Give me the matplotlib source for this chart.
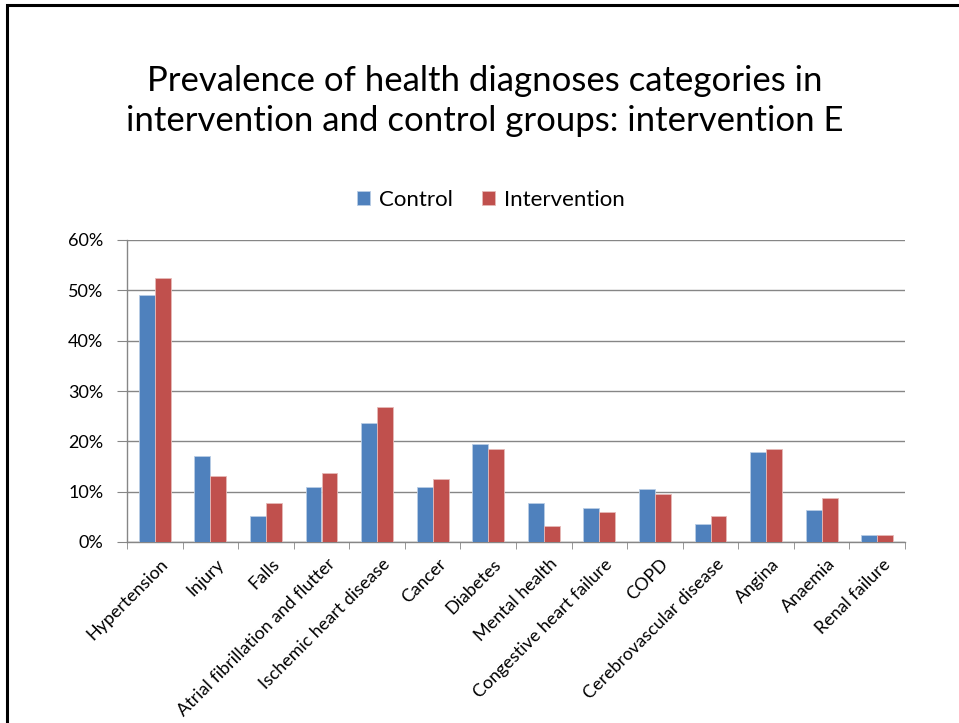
import matplotlib
matplotlib.use("Agg")
import matplotlib.pyplot as plt
from matplotlib.patches import Rectangle
from matplotlib.ticker import FuncFormatter, MultipleLocator, FixedLocator
from matplotlib.transforms import ScaledTranslation
import numpy as np

categories = ["Hypertension", "Injury", "Falls", "Atrial fibrillation and flutter",
              "Ischemic heart disease", "Cancer", "Diabetes", "Mental health",
              "Congestive heart failure", "COPD", "Cerebrovascular disease",
              "Angina", "Anaemia", "Renal failure"]
control = [49.1, 17.0, 5.2, 10.9, 23.7, 10.9, 19.5, 7.7, 6.7, 10.6, 3.5, 17.9, 6.4, 1.3]
intervention = [52.5, 13.1, 7.7, 13.8, 26.8, 12.5, 18.5, 3.2, 6.0, 9.6, 5.1, 18.5, 8.7, 1.3]
series_names = ["Control", "Intervention"]
title = "Prevalence of health diagnoses categories in\nintervention and control groups: intervention E"

plt.rcParams["font.family"] = ["Lato", "DejaVu Sans"]

W, H = 959, 723
fig = plt.figure(figsize=(W / 100, H / 100), dpi=100)
fig.patch.set_facecolor("white")

# outer frame, running off the right and bottom edges
fig.patches.append(Rectangle((7 / W, -0.1), 1.2, 1.1 - 5 / H, transform=fig.transFigure,
                             fill=False, edgecolor="black", linewidth=2.2))

ax = fig.add_axes([127 / W, 1 - 542 / H, (905 - 127) / W, (542 - 240) / H])

x = np.arange(len(categories))
bw = 1 / 3.5
ax.bar(x - bw / 2, control, bw, color="#4F81BD", edgecolor="#B9CDE5", linewidth=0.6,
       label=series_names[0], zorder=3)
ax.bar(x + bw / 2, intervention, bw, color="#C0504D", edgecolor="#E6B9B8", linewidth=0.6,
       label=series_names[1], zorder=3)

ax.set_xlim(-0.5, len(categories) - 0.5)
ax.set_ylim(0, 60)
ax.yaxis.set_major_locator(MultipleLocator(10))
ax.yaxis.set_major_formatter(FuncFormatter(lambda v, p: f"{v:.0f}%"))
ax.grid(axis="y", color="#868686", linewidth=1.0, zorder=0)

for s in ["top", "right"]:
    ax.spines[s].set_visible(False)
for s in ["left", "bottom"]:
    ax.spines[s].set_color("#868686")
    ax.spines[s].set_linewidth(1.0)

ax.tick_params(axis="y", direction="out", length=7, color="#868686", labelsize=13, pad=10)
ax.set_xticks(x)
ax.set_xticklabels(categories, rotation=45, ha="right", rotation_mode="anchor", fontsize=12.9)
ax.tick_params(axis="x", which="major", length=0, pad=10)
ax.xaxis.set_minor_locator(FixedLocator(np.arange(-0.5, len(categories), 1.0)))
ax.tick_params(axis="x", which="minor", direction="out", length=5, color="#868686")
for lbl in ax.get_xticklabels():
    lbl.set_transform(lbl.get_transform() + ScaledTranslation(5 / 100, 0, fig.dpi_scale_trans))

fig.text(485 / W, 1 - 101 / H, title, ha="center", va="center", fontsize=25,
         linespacing=1.27)

fig.legend(loc="center", bbox_to_anchor=(491 / W, 1 - 200 / H), ncol=2, frameon=False,
           fontsize=16, handlelength=0.6, handleheight=0.6, handletextpad=0.4,
           columnspacing=1.3)

fig.savefig("out.png", dpi=100)
